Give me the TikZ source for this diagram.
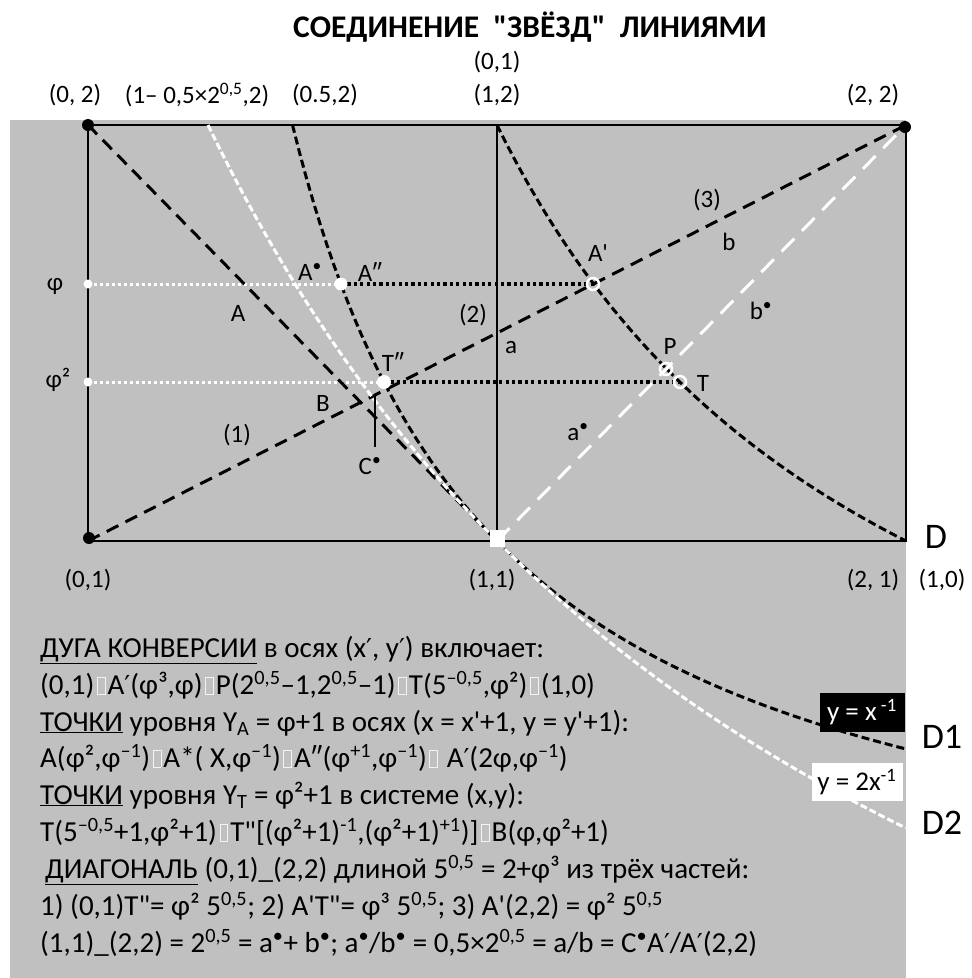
\documentclass[tikz,border=0pt]{standalone}
\usepackage{fontspec}
\setmainfont{Carlito}
\newfontfamily\crl{Carlito}
\newfontfamily\djv{DejaVu Sans}
\definecolor{bg}{RGB}{192,192,192}
\newcommand\su[1]{\textsuperscript{#1}}
\newcommand\pr{{\djv\scalebox{0.9}{′}}}
\newcommand\bx{\hspace{2.5pt}{\color{white!80!bg}\setlength{\fboxrule}{0.9pt}\setlength{\fboxsep}{0pt}\fbox{\rule{0pt}{0.56em}\hspace{0.24em}}}\hspace{2pt}}
\tikzset{
 lbl/.style={font=\crl\fontsize{25}{28}\selectfont, inner sep=0pt, text=black},
 txt/.style={font=\crl\fontsize{29}{32}\selectfont, inner sep=0pt, anchor=base west, text=black},
 bigl/.style={font=\crl\fontsize{36}{40}\selectfont, inner sep=0pt, text=black},
 bdash/.style={line width=3pt, dash pattern=on 13pt off 8pt, black},
 wdash/.style={line width=3pt, dash pattern=on 18pt off 11pt, white},
 bcurve/.style={line width=3pt, dash pattern=on 8pt off 4pt, black},
 wcurve/.style={line width=3pt, dash pattern=on 7pt off 3pt, white},
 bdotted/.style={line width=3.2pt, dash pattern=on 3.2pt off 3.2pt, black},
 wdotted/.style={line width=3pt, dash pattern=on 3pt off 3pt, white},
 frame/.style={line width=1.5pt, black},
 wring/.style={draw=white, line width=2.5pt},
}
\begin{document}
\crl
\begin{tikzpicture}[x=1pt,y=-1pt]
\useasboundingbox (0,0) rectangle (972,978);
\fill[bg] (10,120) rectangle (906,978);
% key points
\coordinate (c02) at (88,125);
\coordinate (c22) at (906,125);
\coordinate (c01) at (88,541);
\coordinate (c21) at (906,541);
\coordinate (c12) at (497,125);
\coordinate (c11) at (497,541);
\coordinate (Lphi) at (88,284);
\coordinate (Lphi2) at (88,382);
\coordinate (App) at (341,284);
\coordinate (Tpp) at (384,382);
\coordinate (Ap) at (593,284);
\coordinate (Pp) at (666,369);
\coordinate (Tp) at (680,382);
\coordinate (Cs) at (375,395);
\coordinate (Cs0) at (375,447);
% frame
\draw[frame] (c02) rectangle (c21);
\draw[frame] (c12) -- (c11);
% dotted levels
\draw[wdotted] (Lphi) -- (App);
\draw[bdotted] (App) -- (Ap);
\draw[wdotted] (Lphi2) -- (Tpp);
\draw[bdotted] (Tpp) -- (Tp);
% straight dashed
\draw[bdash] (c02) -- (c11);
\draw[bdash] (c01) -- (c22);
\draw[wdash] (c11) -- (c22);
% curves
\draw[bcurve] plot[domain=0.5:2, samples=90] ({88+409*\x},{957-416/\x});
\draw[bcurve] plot[domain=1:2, samples=60] ({88+409*\x},{957-832/\x});
\draw[wcurve] plot[domain=0.2935:2, samples=90] ({88+409*\x},{957-416*(5.353/(\x+1.3298)-1.2976)});
% pointer to C*
\draw[line width=1.5pt] (Cs0) -- (Cs);
% markers
\fill[white] (Lphi) circle (4.5);
\fill[white] (Lphi2) circle (4.5);
\fill[white] (App) circle (6.5);
\fill[white] (Tpp) circle (7);
\draw[wring] (Ap) circle (6);
\draw[wring] (Pp) circle (6);
\draw[wring] (Tp) circle (6);
\fill[white] (490,530) rectangle (505,547);
\fill[black] (c02) circle (6);
\fill[black] (905,127) circle (6);
\fill[black] (89,538) circle (6);
% title and axis labels
\node[font=\crl\fontsize{31.5}{36}\selectfont\bfseries, inner sep=0pt] (title) at (530,27) {СОЕДИНЕНИЕ\ \ "ЗВЁЗД"\ \ ЛИНИЯМИ};
\node[lbl] (t01) at (497,62) {(0,1)};
\node[lbl] (t02) at (75,95) {(0, 2)};
\node[lbl] (tx) at (197,95) {(1– 0,5×2\su{0,5},2)};
\node[lbl] (t052) at (325,95) {(0.5,2)};
\node[lbl] (t12) at (497,95) {(1,2)};
\node[lbl] (t22) at (873,95) {(2, 2)};
\node[lbl] (lphi) at (55,286) {φ};
\node[lbl] (lphi2) at (58,380) {φ²};
\node[lbl] (b01) at (88,580) {(0,1)};
\node[lbl] (b11) at (492,580) {(1,1)};
\node[lbl] (b21) at (873,580) {(2, 1)};
\node[lbl] (b10) at (942,580) {(1,0)};
\node[bigl] (D) at (936,537) {D};
\node[bigl] (D1) at (942,737) {D1};
\node[bigl] (D2) at (942,823) {D2};
% point labels
\node[lbl] (lA) at (238,313) {A};
\node[lbl] (lAs) at (310,272) {A\su{•}};
\node[lbl] (lApp) at (370,272) {A″};
\node[lbl] (lTpp) at (393,362) {T″};
\node[lbl] (lB) at (323,403) {B};
\node[lbl] (l1) at (237,435) {(1)};
\node[lbl] (lCs) at (370,466) {C\su{•}};
\node[lbl] (l2) at (473,315) {(2)};
\node[lbl] (la) at (511,348) {a};
\node[lbl] (las) at (578,432) {a\su{•}};
\node[lbl] (lAp) at (598,253) {A'};
\node[lbl] (l3) at (707,200) {(3)};
\node[lbl] (lb) at (729,242) {b};
\node[lbl] (lbs) at (761,311) {b\su{•}};
\node[lbl] (lP) at (670,346) {P};
\node[lbl] (lT) at (703,383) {T};
% curve labels
\node[fill=black, text=white, font=\crl\fontsize{27}{30}\selectfont, minimum width=85pt, minimum height=39pt, inner sep=0pt] (k1) at (862,712) {y = x\su{ -1}};
\node[fill=white, text=black, font=\crl\fontsize{27}{30}\selectfont, minimum width=91pt, minimum height=38pt, inner sep=0pt] (k2) at (857,782) {y = 2x\su{-1}};
% text block
\node[txt] (r1) at (40,657) {\underline{ДУГА КОНВЕРСИИ} в осях (x\pr, y\pr) включает:};
\node[txt] (r2) at (40,694) {(0,1)\bx A\pr(φ³,φ)\bx P(2\su{0,5}–1,2\su{0,5}–1)\bx T(5\su{–0,5},φ²)\bx(1,0)};
\node[txt] (r3) at (40,731) {\underline{ТОЧКИ} уровня Y\textsubscript{A} = φ+1 в осях (x = x'+1, y = y'+1):};
\node[txt] (r4) at (40,767) {A(φ²,φ\su{–1})\bx A*( X,φ\su{–1})\bx A″(φ\su{+1},φ\su{–1})\bx\ A\pr(2φ,φ\su{–1})};
\node[txt] (r5) at (40,804) {\underline{ТОЧКИ} уровня Y\textsubscript{T} = φ²+1 в системе (x,y):};
\node[txt] (r6) at (40,841) {T(5\su{–0,5}+1,φ²+1)\bx T"[(φ²+1)\su{-1},(φ²+1)\su{+1})]\bx B(φ,φ²+1)};
\node[txt] (r7) at (45,878) {\underline{ДИАГОНАЛЬ} (0,1)\_(2,2) длиной 5\su{0,5} = 2+φ³ из трёх частей:};
\node[txt] (r8) at (40,915) {1) (0,1)T"= φ² 5\su{0,5}; 2) A'T"= φ³ 5\su{0,5}; 3) A'(2,2) = φ² 5\su{0,5}};
\node[txt] (r9) at (40,952) {(1,1)\_(2,2) = 2\su{0,5} = a\su{•}+ b\su{•}; a\su{•}/b\su{•} = 0,5×2\su{0,5} = a/b = C\su{•}A\pr/A\pr(2,2)};
\end{tikzpicture}
\end{document}
